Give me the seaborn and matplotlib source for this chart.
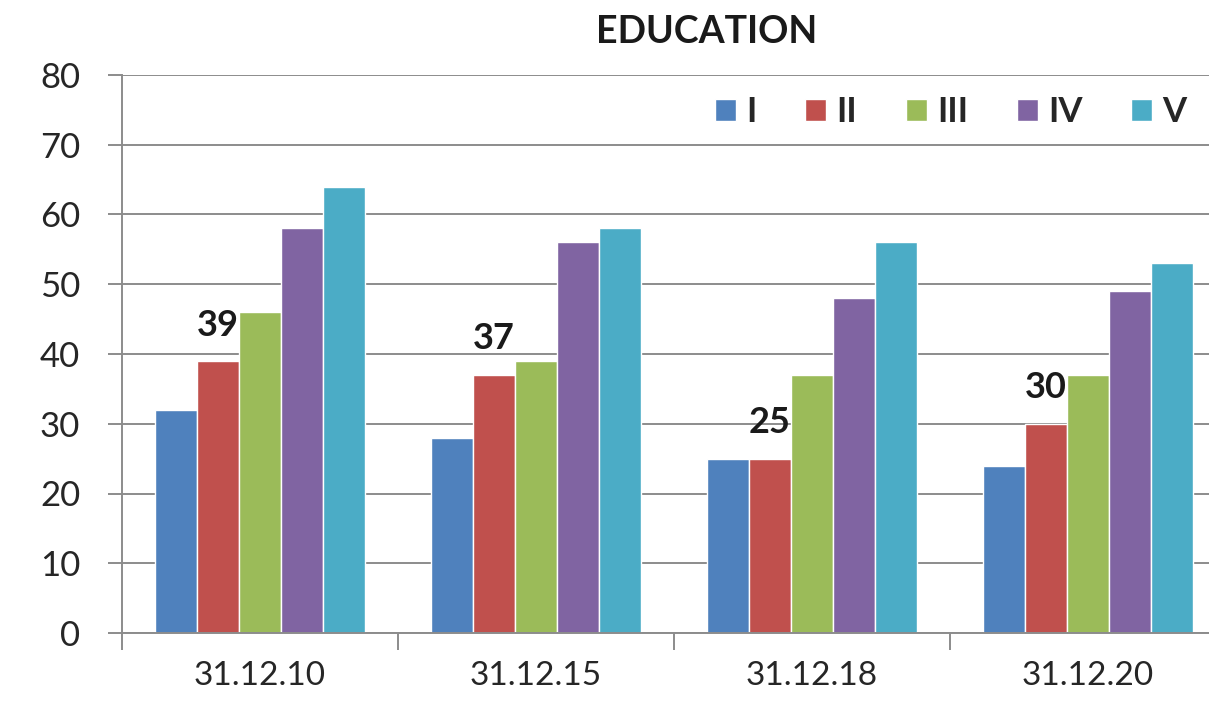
import matplotlib.pyplot as plt
import pandas as pd
import seaborn as sns
from matplotlib.patches import Patch

dates = ["31.12.10", "31.12.15", "31.12.18", "31.12.20"]
levels = ["I", "II", "III", "IV", "V"]
val_i = [32, 28, 25, 24]
val_ii = [39, 37, 25, 30]
val_iii = [46, 39, 37, 37]
val_iv = [58, 56, 48, 49]
val_v = [64, 58, 56, 53]
colors = ["#4F81BD", "#C0504D", "#9BBB59", "#8064A2", "#4BACC6"]

rows = []
for lev, vals in zip(levels, [val_i, val_ii, val_iii, val_iv, val_v]):
    for d, v in zip(dates, vals):
        rows.append({"date": d, "level": lev, "value": v})
df = pd.DataFrame(rows)

sns.set_style("white")
plt.rcParams["font.family"] = ["Lato", "DejaVu Sans"]

fig = plt.figure(figsize=(12.09, 7.08), dpi=100)
# the plot area runs past the right edge of the picture, as in the original crop
ax = fig.add_axes([122 / 1209, 1 - 633 / 708, 1104 / 1209, 558 / 708])

sns.barplot(data=df, x="date", y="value", hue="level", order=dates,
            hue_order=levels, palette=colors, width=0.764, gap=0,
            saturation=1, legend=False, ax=ax)

# only the second series gets data labels
ax.bar_label(ax.containers[1], fmt="%g", padding=14, fontsize=26,
             fontweight="bold", color="#1a1a1a")

ax.set_ylim(0, 80)
ax.set_xlim(-0.5, 3.5)
ax.set_yticks(range(0, 81, 10))
ax.yaxis.grid(True, color="#8c8c8c", linewidth=1.4)
ax.set_axisbelow(True)
ax.set_xlabel("")
ax.set_ylabel("")

for s in ["top", "right"]:
    ax.spines[s].set_visible(False)
for s in ["left", "bottom"]:
    ax.spines[s].set_color("#8c8c8c")
    ax.spines[s].set_linewidth(1.4)

ax.tick_params(axis="y", labelsize=25, colors="#8c8c8c", labelcolor="#262626",
               length=10, width=1.4, direction="out", left=True, pad=20)
ax.tick_params(axis="x", labelsize=24, labelcolor="#262626", length=0, pad=20)
ax.set_xticks([-0.5, 0.5, 1.5, 2.5, 3.5], minor=True)
ax.tick_params(axis="x", which="minor", length=12, width=1.4,
               colors="#8c8c8c", direction="out", bottom=True)

fig.text(707 / 1209, 1 - 32 / 708, "EDUCATION", ha="center", va="center",
         fontsize=27, fontweight="bold", color="#1a1a1a")

handles = [Patch(facecolor=c, label=l) for c, l in zip(colors, levels)]
fig.legend(handles=handles, ncol=5, frameon=False, loc="center",
           bbox_to_anchor=(951 / 1209, 1 - 112 / 708),
           prop={"weight": "bold", "size": 25},
           handlelength=0.6, handleheight=0.6, handletextpad=0.3,
           columnspacing=1.4)

fig.savefig("out.png", dpi=100)
